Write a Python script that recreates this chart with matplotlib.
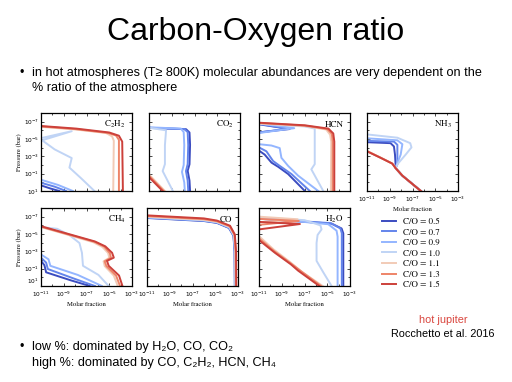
import matplotlib
matplotlib.use("Agg")
import matplotlib.pyplot as plt
import numpy as np
from matplotlib.ticker import FixedLocator, LogFormatterMathtext, NullFormatter

plt.rcParams["mathtext.fontset"] = "stix"

W, H = 512, 382

# C/O ratios shown in every panel (blue -> red)
CO_RATIOS = [0.5, 0.7, 0.9, 1.0, 1.1, 1.3, 1.5]
CMAP_POS = [0.0, 0.13, 0.27, 0.40, 0.60, 0.80, 0.93]

# curves are (log10 molar fraction, log10 pressure[bar]) pairs, one list per C/O
C2H2 = [
    [(-11, 0.35), (-10.2, 0.7), (-9.4, 1)],
    [(-11, 0.05), (-9.8, 0.5), (-8.8, 1)],
    [(-11, -0.3), (-9.5, 0.3), (-8.2, 1)],
    [(-11, -5.1), (-8.3, -5.9), (-10.9, -4.85), (-9.8, -3.8), (-8.3, -2.8),
     (-8.5, -1.7), (-7.5, -0.5), (-6.3, 1)],
    [(-11, -6.4), (-8, -6.1), (-5.3, -5.7), (-4.75, -5.3), (-4.6, -4.8), (-4.65, 1)],
    [(-11, -6.45), (-8, -6.15), (-5.1, -5.7), (-4.4, -5.4), (-4.15, -4.9), (-4.15, 1)],
    [(-11, -6.5), (-7.9, -6.2), (-5.0, -5.75), (-4.15, -5.38), (-3.86, -4.7), (-3.8, 1)],
]

CO2 = [
    [(-11, -6.28), (-7.74, -6.13), (-7.44, -5.75), (-7.39, -4.33), (-7.44, -2.08),
     (-7.6, -1.33), (-7.44, -0.2), (-7.39, 1)],
    [(-11, -6.3), (-7.9, -6.15), (-7.6, -5.8), (-7.55, -4.3), (-7.6, -2.1),
     (-7.75, -1.3), (-7.6, -0.2), (-7.55, 1)],
    [(-11, -6.35), (-8.2, -6.2), (-7.95, -5.8), (-7.9, -4.3), (-7.95, -2.0),
     (-8.1, -1.2), (-7.9, 0.0), (-7.85, 1)],
    [(-11, -6.3), (-9.5, -6.0), (-9.6, -4.3), (-9.6, -2.1), (-9.8, -1.3), (-8.9, 1)],
    [(-11, -0.9), (-9.6, 1)],
    [(-11, -0.75), (-9.7, 1)],
    [(-11, -0.6), (-9.8, 1)],
]

HCN = [
    [(-11.5, -6.8), (-8.3, -6.15), (-11.5, -5.7), (-11.5, -4.0), (-11, -3.66),
     (-10.5, -3.2), (-9.9, -2.27), (-9.3, -1.78), (-8.44, -0.96), (-6.97, 1)],
    [(-11.5, -6.85), (-8.45, -6.2), (-11.5, -5.65), (-11.5, -4.3), (-11, -4.03),
     (-10.35, -3.58), (-9.76, -2.46), (-9.18, -1.9), (-8.15, -0.96), (-6.53, 1)],
    [(-11.5, -6.9), (-7.9, -6.25), (-11.5, -5.6), (-11.5, -4.6), (-11, -4.4),
     (-9.91, -4.25), (-9.18, -3.95), (-9.03, -2.83), (-8.44, -1.9), (-7.56, -0.77),
     (-5.79, 1)],
    [(-11, -6.75), (-7, -6.45), (-6.1, -6.2), (-6.1, -2.1), (-6.4, -1.5), (-5.35, 1)],
    [(-11, -6.8), (-7, -6.5), (-5.1, -6.1), (-4.75, -5.5), (-4.65, -4.7), (-4.68, 1)],
    [(-11, -6.85), (-7, -6.55), (-5.0, -6.15), (-4.6, -5.6), (-4.52, -4.7), (-4.52, 1)],
    [(-11, -6.88), (-6.97, -6.58), (-4.9, -6.2), (-4.47, -5.64), (-4.38, -4.7), (-4.38, 1)],
]

NH3 = [
    [(-11, -4.63), (-8.93, -4.52), (-8.63, -4.14), (-8.54, -3.2), (-8.48, -1.9),
     (-8.48, -1.63), (-7.89, -0.77), (-6.26, 1)],
    [(-11, -4.78), (-8.63, -4.7), (-8.33, -4.33), (-8.33, -2.08), (-8.48, -1.63),
     (-7.89, -0.77), (-6.26, 1)],
    [(-11, -5.08), (-8.33, -4.85), (-7.89, -4.4), (-8.04, -3.2), (-8.4, -2.0),
     (-8.48, -1.63), (-7.89, -0.77), (-6.26, 1)],
    [(-11, -5.53), (-8.33, -5.15), (-7.2, -4.52), (-7.09, -4.03), (-7.6, -3.2),
     (-8.33, -2.08), (-8.48, -1.63), (-7.89, -0.77), (-6.26, 1)],
    [(-11, -3.62), (-9.81, -2.86), (-8.78, -2.18), (-8.48, -1.63), (-7.89, -0.77), (-6.28, 1)],
    [(-11, -3.6), (-9.81, -2.85), (-8.78, -2.17), (-8.48, -1.63), (-7.89, -0.77), (-6.27, 1)],
    [(-11, -3.58), (-9.81, -2.83), (-8.78, -2.16), (-8.48, -1.63), (-7.89, -0.77), (-6.26, 1)],
]

CH4 = [
    [(-11, -1.9), (-10.7, -1.4), (-10.55, -0.58), (-8.37, 0.35), (-6.71, 1)],
    [(-11, -2.27), (-10.55, -1.7), (-10.4, -0.96), (-8.07, 0.16), (-6.26, 1)],
    [(-11, -2.64), (-10.34, -2.08), (-10.18, -1.33), (-7.77, -0.28), (-5.65, 1)],
    [(-11, -5.8), (-9.58, -5.6), (-8.52, -4.89), (-7.62, -3.96), (-7.4, -2.83),
     (-7.31, -1.33), (-5.95, -0.28), (-5.05, 1)],
    [(-11, -5.8), (-9, -5.05), (-6.4, -4.05), (-5.6, -3.5), (-5.1, -2.8), (-5.0, -2.25),
     (-5.5, -1.85), (-5.4, -1.3), (-4.6, -0.2), (-4.25, 1)],
    [(-11, -5.85), (-9, -5.1), (-6.3, -4.1), (-5.45, -3.55), (-4.95, -2.8), (-4.85, -2.25),
     (-5.4, -1.85), (-5.25, -1.3), (-4.4, -0.2), (-4.05, 1)],
    [(-11, -5.9), (-8.98, -5.15), (-6.26, -4.14), (-5.35, -3.58), (-4.75, -2.83),
     (-4.6, -2.27), (-5.2, -1.9), (-5.05, -1.33), (-4.14, -0.21), (-3.84, 1)],
]

CO = [
    [(-11, -6.85), (-6, -6.5), (-4.85, -6.28), (-3.8, -5.7), (-3.4, -4.8), (-3.3, -3), (-3.28, 1)],
    [(-11, -6.88), (-6, -6.53), (-4.85, -6.31), (-3.79, -5.73), (-3.39, -4.82), (-3.29, -3), (-3.27, 1)],
    [(-11, -6.92), (-6, -6.57), (-4.85, -6.35), (-3.78, -5.77), (-3.37, -4.84), (-3.27, -3), (-3.25, 1)],
    [(-11, -6.96), (-6, -6.6), (-4.85, -6.38), (-3.76, -5.8), (-3.35, -4.85), (-3.25, -3), (-3.22, 1)],
    [(-11, -7.0), (-6, -6.65), (-4.85, -6.42), (-3.74, -5.84), (-3.33, -4.88), (-3.22, -3), (-3.2, 1)],
    [(-11, -7.08), (-6, -6.72), (-4.85, -6.48), (-3.72, -5.9), (-3.3, -4.9), (-3.2, -3), (-3.18, 1)],
    [(-11, -7.15), (-6, -6.8), (-4.85, -6.55), (-3.7, -5.95), (-3.28, -4.95), (-3.17, -3), (-3.15, 1)],
]

H2O = [
    [(-11, -6.76), (-4.62, -6.2), (-3.74, -5.64), (-3.59, -5.08), (-3.59, 1)],
    [(-11, -6.8), (-4.7, -6.25), (-3.85, -5.65), (-3.72, -5.1), (-3.72, 1)],
    [(-11, -6.88), (-4.91, -6.13), (-4.18, -5.38), (-4.09, -4.7), (-4.09, 1)],
    [(-11, -6.9), (-7, -6.6), (-5.6, -6.0), (-5.5, -5.53), (-5.85, -4.89), (-5.94, -3.96),
     (-5.94, -1.9), (-5.35, -0.58), (-4.62, 1)],
    [(-11, -7.0), (-7.6, -6.7), (-11.5, -6.3), (-11.5, -5.0), (-11, -4.75), (-9.7, -3.2),
     (-8.3, -1.8), (-7.2, -0.6), (-5.4, 1)],
    [(-11, -6.75), (-7.5, -6.5), (-11.5, -6.0), (-11.5, -4.7), (-11, -4.5), (-9.65, -3.0),
     (-8.2, -1.6), (-7.3, -0.7), (-5.55, 1)],
    [(-11, -6.4), (-7.4, -6.15), (-11, -5.53), (-11.5, -5.2), (-11.5, -4.5), (-11, -4.3),
     (-9.6, -2.83), (-8.2, -1.5), (-7.56, -0.77), (-5.7, 1)],
]

PANELS = [
    # name, data, pixel box (left, top), show x ticks, show y ticks
    ("C$_2$H$_2$", C2H2, (41, 113), False, True),
    ("CO$_2$", CO2, (149, 113), False, False),
    ("HCN", HCN, (259, 113), False, False),
    ("NH$_3$", NH3, (367, 113), True, False),
    ("CH$_4$", CH4, (41, 208), True, True),
    ("CO", CO, (147, 208), True, False),
    ("H$_2$O", H2O, (259, 208), True, False),
]
PW, PH = 91, 78

SANS = ["Liberation Sans", "DejaVu Sans"]
SERIF = "STIXGeneral"

fig = plt.figure(figsize=(W / 100, H / 100), dpi=100)
colors = [plt.cm.coolwarm(p) for p in CMAP_POS]

handles = []
for name, data, (l, t), xt, yt in PANELS:
    ax = fig.add_axes([l / W, 1 - (t + PH) / H, PW / W, PH / H])
    for k, curve in enumerate(data):
        lx, lp = zip(*curve)
        ln, = ax.plot(10 ** np.array(lx), 10 ** np.array(lp), color=colors[k],
                      lw=1.4, solid_joinstyle="round", label=f"C/O = {CO_RATIOS[k]}")
        if name == "C$_2$H$_2$":
            handles.append(ln)
    ax.set_xscale("log")
    ax.set_yscale("log")
    ax.set_xlim(1e-11, 1e-3)
    ax.set_ylim(1e1, 1e-8)
    ax.xaxis.set_major_locator(FixedLocator([1e-11, 1e-9, 1e-7, 1e-5, 1e-3]))
    ax.yaxis.set_major_locator(FixedLocator([1e-7, 1e-5, 1e-3, 1e-1, 1e1]))
    ax.xaxis.set_minor_locator(FixedLocator(10.0 ** np.arange(-11, -2)))
    ax.yaxis.set_minor_locator(FixedLocator(10.0 ** np.arange(-8, 2)))
    ax.xaxis.set_major_formatter(LogFormatterMathtext() if xt else NullFormatter())
    ax.yaxis.set_major_formatter(LogFormatterMathtext() if yt else NullFormatter())
    ax.xaxis.set_minor_formatter(NullFormatter())
    ax.yaxis.set_minor_formatter(NullFormatter())
    ax.tick_params(which="both", direction="in", top=True, right=True,
                   labelsize=4.2, width=0.5)
    ax.tick_params(axis="x", which="both", pad=2.8)
    ax.tick_params(axis="y", which="both", pad=1.5)
    ax.tick_params(which="major", length=2.5)
    ax.tick_params(which="minor", length=1.5)
    if xt and yt:
        # keep the bottom pressure label clear of the first x label
        ax.yaxis.get_major_ticks()[-1].label1.set_va("bottom")
    for s in ax.spines.values():
        s.set_linewidth(0.9)
    ax.text(0.93, 0.85, name, transform=ax.transAxes, ha="right", va="center",
            fontsize=6.5, family=SERIF)
    if yt:
        ax.set_ylabel("Pressure (bar)", fontsize=4.8, family=SERIF, labelpad=1)
    if xt:
        ax.set_xlabel("Molar fraction", fontsize=4.8, family=SERIF, labelpad=1.5)

fig.legend(handles=handles, loc="upper left", bbox_to_anchor=(378 / W, 1 - 214 / H),
           frameon=False, prop={"family": SERIF, "size": 6.5}, handlelength=1.6,
           labelspacing=0.25, handletextpad=0.8, borderaxespad=0)

fig.text(0.5, 1 - 32 / H, "Carbon-Oxygen ratio", ha="center", va="center",
         fontsize=23, family=SANS)
fig.text(20 / W, 1 - 73 / H, "\u2022", ha="left", va="center", fontsize=9, family=SANS)
fig.text(32 / W, 1 - 73 / H,
         "in hot atmospheres (T\u2265 800K) molecular abundances are very dependent on the",
         ha="left", va="center", fontsize=9.1, family=SANS)
fig.text(32 / W, 1 - 88 / H, "% ratio of the atmosphere", ha="left", va="center",
         fontsize=9.1, family=SANS)

fig.text(20 / W, 1 - 347 / H, "\u2022", ha="left", va="center", fontsize=9, family=SANS)
fig.text(32 / W, 1 - 347 / H, "low %: dominated by H\u2082O, CO, CO\u2082",
         ha="left", va="center", fontsize=9.1, family=SANS)
fig.text(32 / W, 1 - 363 / H, "high %: dominated by CO, C\u2082H\u2082, HCN, CH\u2084",
         ha="left", va="center", fontsize=9.1, family=SANS)

fig.text(443 / W, 1 - 320 / H, "hot jupiter", ha="center", va="center",
         fontsize=7.8, color="#d9453d", family=SANS)
fig.text(443 / W, 1 - 334 / H, "Rocchetto et al. 2016", ha="center", va="center",
         fontsize=7.8, family=SANS)

fig.savefig("out.png", dpi=100)
